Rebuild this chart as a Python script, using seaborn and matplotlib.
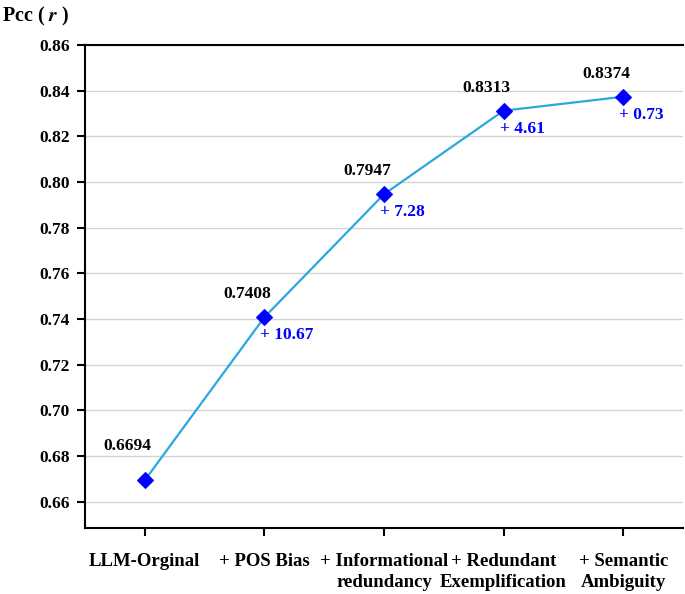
import matplotlib.pyplot as plt
import seaborn as sns
import pandas as pd

stages = ["LLM-Orginal", "+ POS Bias", "+ Informational\nredundancy",
          "+ Redundant\nExemplification", "+ Semantic\nAmbiguity"]
pcc = [0.6694, 0.7408, 0.7947, 0.8313, 0.8374]
gains = ["", "+ 10.67", "+ 7.28", "+ 4.61", "+ 0.73"]
yticks = [0.66, 0.68, 0.70, 0.72, 0.74, 0.76, 0.78, 0.80, 0.82, 0.84, 0.86]

sns.set_theme(style="white")
plt.rcParams['font.family'] = ['Liberation Serif', 'DejaVu Serif']
plt.rcParams['font.weight'] = 'bold'
plt.rcParams['mathtext.fontset'] = 'stix'
plt.rcParams['text.color'] = 'black'
plt.rcParams['xtick.labelcolor'] = 'black'
plt.rcParams['ytick.labelcolor'] = 'black'

df = pd.DataFrame({"x": range(len(stages)), "pcc": pcc})

fig = plt.figure(figsize=(6.85, 5.94), dpi=100)
ax = fig.add_axes([0.124, 0.111, 0.873, 0.813])

sns.lineplot(data=df, x="x", y="pcc", ax=ax, color="#29a8e0", linewidth=1.6,
             marker="D", markersize=8, markerfacecolor="#0000ff",
             markeredgecolor="#0000ff", zorder=3)

for i, (v, g) in enumerate(zip(pcc, gains)):
    dy = 34 if i == 0 else 23
    ax.annotate(f"{v:.4f}", (i, v), xytext=(-17, dy), textcoords="offset pixels",
                ha="center", va="center", fontsize=12.5, fontweight="bold", color="black")
    if g:
        ax.annotate(g, (i, v), xytext=(-4, -18), textcoords="offset pixels",
                    ha="left", va="center", fontsize=12.5, fontweight="bold", color="#0000ff")

ax.set_xlim(-0.5, 4.5)
ax.set_ylim(0.6485, 0.86)
ax.set_yticks(yticks)
ax.set_yticklabels([f"{t:.2f}" for t in yticks], fontsize=12.5, fontweight="bold")
ax.set_xticks(range(len(stages)))
ax.set_xticklabels(stages, fontsize=13.5, fontweight="bold", linespacing=1.3)
ax.set_xlabel("")
ax.set_ylabel("")

ax.yaxis.grid(True, color="#d3d3d3", linewidth=1)
ax.xaxis.grid(False)
for s in ["left", "bottom", "top"]:
    ax.spines[s].set_color("black")
    ax.spines[s].set_linewidth(1.5)
ax.spines["right"].set_visible(False)
ax.tick_params(axis="both", direction="out", length=6, width=1.5, color="black",
               bottom=True, left=True)
ax.tick_params(axis="x", pad=12)
ax.tick_params(axis="y", pad=5)

fig.text(0.003, 0.972, r"Pcc ( $\mathbfit{r}$ )", fontsize=14.5, fontweight="bold",
         ha="left", va="center")

fig.savefig("out.png", dpi=100)
